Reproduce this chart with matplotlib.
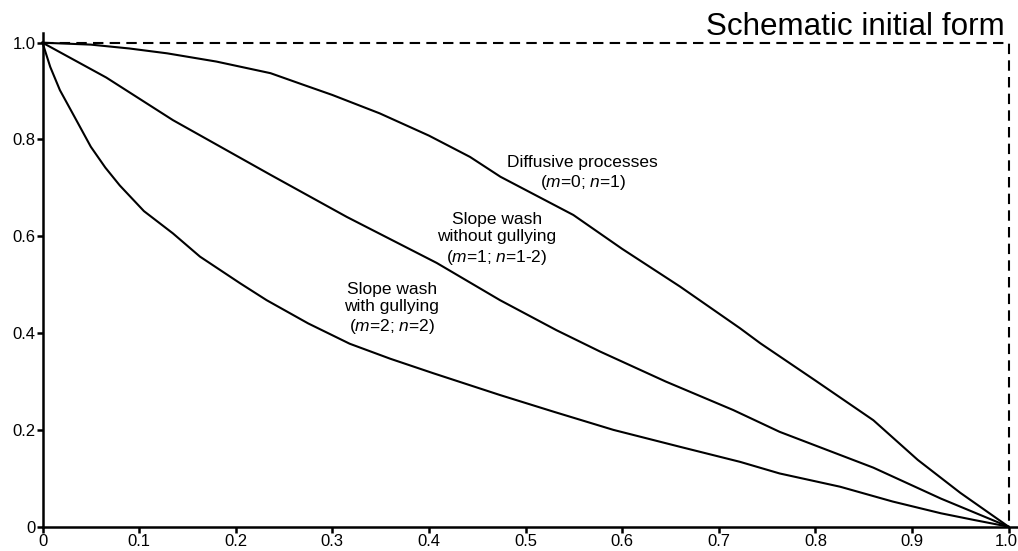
import matplotlib
matplotlib.use("Agg")
import matplotlib.pyplot as plt
import matplotlib.transforms as mtransforms

plt.rcParams['font.family'] = ['Liberation Sans', 'DejaVu Sans']
plt.rcParams['mathtext.fontset'] = 'custom'
plt.rcParams['mathtext.rm'] = 'Liberation Sans'
plt.rcParams['mathtext.it'] = 'Liberation Sans:italic'

# curves (distance, relative height)
diff_x = [0.0, 0.05, 0.09, 0.129, 0.18, 0.236, 0.27, 0.3, 0.349, 0.4, 0.4425, 0.474, 0.5495,
          0.6, 0.66, 0.722, 0.743, 0.8, 0.86, 0.906, 0.95, 1.0]
diff_y = [1.0, 0.996, 0.988, 0.978, 0.961, 0.937, 0.913, 0.892, 0.854, 0.808, 0.764, 0.723, 0.644,
          0.574, 0.496, 0.41, 0.379, 0.302, 0.22, 0.138, 0.07, 0.0]

wash_x = [0.0, 0.066, 0.135, 0.236, 0.315, 0.408, 0.4736, 0.532, 0.577, 0.645, 0.715, 0.763,
          0.86, 0.93, 1.0]
wash_y = [1.0, 0.928, 0.84, 0.727, 0.64, 0.545, 0.468, 0.406, 0.362, 0.3, 0.241, 0.196,
          0.122, 0.058, 0.0]

gully_x = [0.0, 0.008, 0.018, 0.035, 0.05, 0.065, 0.08, 0.105, 0.135, 0.163, 0.2045, 0.232,
           0.275, 0.318, 0.36, 0.4046, 0.4736, 0.53, 0.591, 0.66, 0.722, 0.763, 0.8256,
           0.88, 0.93, 0.9645, 1.0]
gully_y = [1.0, 0.95, 0.902, 0.84, 0.785, 0.742, 0.705, 0.652, 0.606, 0.558, 0.503, 0.468,
           0.42, 0.378, 0.347, 0.317, 0.272, 0.237, 0.2, 0.165, 0.134, 0.11, 0.0826,
           0.052, 0.0277, 0.0138, 0.0]

init_x = [0.0, 1.0, 1.0]
init_y = [1.0, 1.0, 0.0]

xticks = [0, 0.1, 0.2, 0.3, 0.4, 0.5, 0.6, 0.7, 0.8, 0.9, 1.0]
xlabels = ['0', '0.1', '0.2', '0.3', '0.4', '0.5', '0.6', '0.7', '0.8', '0.9', '1.0']
yticks = [0, 0.2, 0.4, 0.6, 0.8, 1.0]
ylabels = ['0', '0.2', '0.4', '0.6', '0.8', '1.0']

fig = plt.figure(figsize=(10.18, 5.51), dpi=100)
ax = fig.add_axes([0.04175, 0.0441, 0.9585, 0.896])

ax.plot(init_x, init_y, color='black', lw=1.5, dashes=(5, 3), clip_on=False)
for xs, ys in [(diff_x, diff_y), (wash_x, wash_y), (gully_x, gully_y)]:
    ax.plot(xs, ys, color='black', lw=1.5, clip_on=False, solid_joinstyle='round')

ax.set_xlim(0, 1.01)
ax.set_ylim(0, 1.02)
ax.set_xticks(xticks)
ax.set_xticklabels(xlabels)
ax.set_yticks(yticks)
ax.set_yticklabels(ylabels)
ax.tick_params(direction='out', length=4, width=1.8, labelsize=12, pad=1)
for s in ['top', 'right']:
    ax.spines[s].set_visible(False)
for s in ['left', 'bottom']:
    ax.spines[s].set_linewidth(1.8)

# nudge the last x label so it stays inside the canvas
last = ax.get_xticklabels()[-1]
last.set_transform(last.get_transform() + mtransforms.ScaledTranslation(-2 / 72, 0, fig.dpi_scale_trans))

fs = 12.5
ax.text(0.559, 0.73, 'Diffusive processes\n($\\it{m}$=0; $\\it{n}$=1)',
        ha='center', va='center', fontsize=fs, linespacing=1.2)
ax.text(0.4705, 0.594, 'Slope wash\nwithout gullying\n($\\it{m}$=1; $\\it{n}$=1-2)',
        ha='center', va='center', fontsize=fs, linespacing=1.22)
ax.text(0.3615, 0.45, 'Slope wash\nwith gullying\n($\\it{m}$=2; $\\it{n}$=2)',
        ha='center', va='center', fontsize=fs, linespacing=1.22)

fig.text(0.987, 0.936, 'Schematic initial form', ha='right', va='baseline', fontsize=22.6)

fig.savefig('out.png', dpi=100)
